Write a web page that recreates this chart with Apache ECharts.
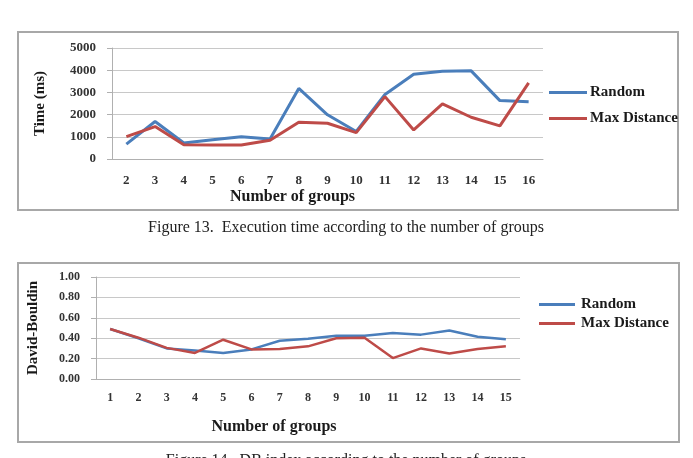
<!DOCTYPE html>
<html>
<head>
<meta charset="utf-8">
<script src="https://cdn.jsdelivr.net/npm/echarts@6/dist/echarts.min.js"></script>
<style>
html, body { margin: 0; padding: 0; background: #fff; }
#main { width: 693px; height: 458px; }
</style>
</head>
<body>
<div id="main"></div>
<script>
// Figure 13 - execution time (ms)
var groups13 = ['2','3','4','5','6','7','8','9','10','11','12','13','14','15','16'];
var timeRandom = [670, 1690, 720, 870, 1000, 900, 3180, 1990, 1240, 2910, 3820, 3950, 3970, 2630, 2580];
var timeMaxDist = [1010, 1460, 640, 630, 630, 840, 1660, 1610, 1190, 2810, 1310, 2480, 1880, 1490, 3430];

// Figure 14 - David-Bouldin index
var groups14 = ['1','2','3','4','5','6','7','8','9','10','11','12','13','14','15'];
var dbRandom = [0.49, 0.40, 0.30, 0.28, 0.255, 0.29, 0.375, 0.395, 0.425, 0.425, 0.45, 0.435, 0.475, 0.415, 0.39];
var dbMaxDist = [0.49, 0.405, 0.305, 0.255, 0.385, 0.29, 0.295, 0.32, 0.40, 0.405, 0.205, 0.30, 0.25, 0.295, 0.32];

var serif = '"Liberation Serif", "DejaVu Serif", serif';
var blue = '#4a7ebb';
var red = '#be4b48';

var dom = document.getElementById('main');
var myChart = echarts.init(dom);

function yAxisCfg(idx, max, interval, fmt, name, gap, fs) {
    return {
        type: 'value', gridIndex: idx, min: 0, max: max, interval: interval,
        name: name, nameLocation: 'middle', nameGap: gap, nameRotate: 90,
        nameTextStyle: { fontFamily: serif, fontWeight: 'bold', fontSize: 15, color: '#1a1a1a' },
        axisLine: { show: true, lineStyle: { color: '#b0b0b0', width: 1 } },
        axisTick: { show: true, length: 5, lineStyle: { color: '#b0b0b0' } },
        axisLabel: { formatter: fmt, margin: 16, fontFamily: serif, fontWeight: 'bold', fontSize: fs, color: '#333' },
        splitLine: { lineStyle: { color: '#c8c8c8', width: 1 } }
    };
}

function xAxisCfg(idx, data, shift, gap, margin, fs) {
    return {
        type: 'category', gridIndex: idx, data: data,
        name: 'Number of groups', nameLocation: 'middle', nameGap: gap,
        nameTextStyle: { fontFamily: serif, fontWeight: 'bold', fontSize: 16, color: '#1a1a1a', padding: [0, shift, 0, 0] },
        axisLine: { lineStyle: { color: '#b0b0b0', width: 1 } },
        axisTick: { show: false },
        axisLabel: { margin: margin, fontFamily: serif, fontWeight: 'bold', fontSize: fs, color: '#333' }
    };
}

function lineSeries(name, x, y, data, color, w) {
    return {
        name: name, type: 'line', xAxisIndex: x, yAxisIndex: y, data: data,
        symbol: 'none', lineStyle: { color: color, width: w }, itemStyle: { color: color },
        animation: false
    };
}

var option = {
    backgroundColor: '#fff',
    animation: false,
    grid: [
        { left: 112, top: 48, width: 431, height: 111 },
        { left: 96, top: 277, width: 424, height: 102 }
    ],
    xAxis: [xAxisCfg(0, groups13, 70, 30, 15, 13), xAxisCfg(1, groups14, 68, 40, 13, 12)],
    yAxis: [
        yAxisCfg(0, 5000, 1000, function (v) { return String(v); }, 'Time (ms)', 64, 13),
        yAxisCfg(1, 1, 0.2, function (v) { return v.toFixed(2); }, 'David-Bouldin', 55, 12)
    ],
    legend: [
        {
            orient: 'vertical', left: 544, top: 80, itemWidth: 38, itemHeight: 3, itemGap: 11,
            icon: 'rect', data: ['Random', 'Max Distance'],
            textStyle: { fontFamily: serif, fontWeight: 'bold', fontSize: 15, color: '#1a1a1a', padding: [0, 0, 0, -2] }
        },
        {
            orient: 'vertical', left: 534, top: 292, itemWidth: 36, itemHeight: 3, itemGap: 4,
            icon: 'rect', data: ['Random ', 'Max Distance '],
            textStyle: { fontFamily: serif, fontWeight: 'bold', fontSize: 15, color: '#1a1a1a', padding: [0, 0, 0, 1] }
        }
    ],
    series: [
        lineSeries('Random', 0, 0, timeRandom, blue, 3),
        lineSeries('Max Distance', 0, 0, timeMaxDist, red, 3),
        lineSeries('Random ', 1, 1, dbRandom, blue, 2.5),
        lineSeries('Max Distance ', 1, 1, dbMaxDist, red, 2.5)
    ],
    graphic: [
        { type: 'rect', shape: { x: 18, y: 32, width: 660, height: 178 }, style: { fill: null, stroke: '#a8a8a8', lineWidth: 2 }, z: -1 },
        { type: 'rect', shape: { x: 18, y: 263, width: 661, height: 179 }, style: { fill: null, stroke: '#a8a8a8', lineWidth: 2 }, z: -1 },
        { type: 'text', x: 346, y: 228, style: { text: 'Figure 13.  Execution time according to the number of groups', fontFamily: serif, fontSize: 16, fill: '#222', textAlign: 'center', textVerticalAlign: 'middle' } },
        { type: 'text', x: 346, y: 461, style: { text: 'Figure 14.  DB index according to the number of groups', fontFamily: serif, fontSize: 16, fill: '#222', textAlign: 'center', textVerticalAlign: 'middle' } }
    ]
};

if (option && typeof option === "object") {
    myChart.setOption(option, true);
}
</script>
</body>
</html>
